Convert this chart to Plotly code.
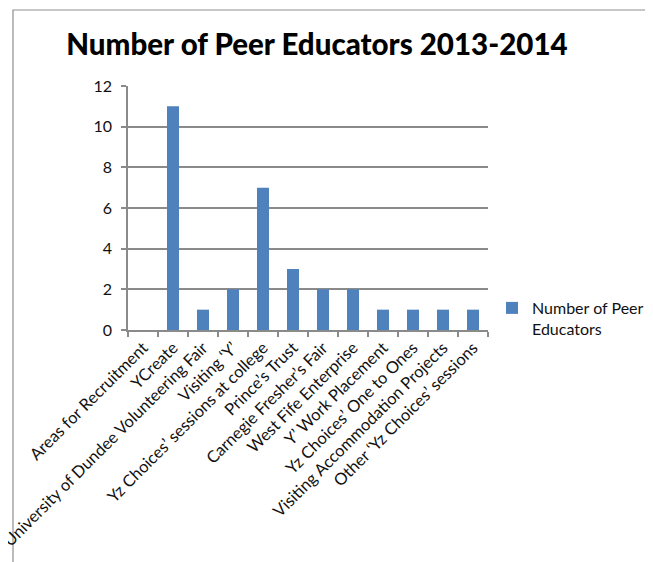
import plotly.graph_objects as go

categories = [
    "Areas for Recruitment",
    "YCreate",
    "University of Dundee Volunteering Fair",
    "Visiting \u2018Y\u2019",
    "Yz Choices\u2019 sessions at college",
    "Prince\u2019s Trust",
    "Carnegie Fresher\u2019s Fair",
    "West Fife Enterprise",
    "Y\u2019 Work Placement",
    "Yz Choices\u2019 One to Ones",
    "Visiting Accommodation Projects",
    "Other \u2018Yz Choices\u2019 sessions",
]
values = [0, 11, 1, 2, 7, 3, 2, 2, 1, 1, 1, 1]
y_ticks = [0, 2, 4, 6, 8, 10, 12]
series_name = "Number of Peer<br>Educators"
title_text = "Number of Peer Educators 2013-2014"

OFF = 8  # page body margin
W, H = 653, 562
# plot area in screen pixels: x 128..488, y 86..330
L = 128 - OFF
T = 86 - OFF
R = W - (488 - OFF)
B = H - (330 - OFF)
pw, ph = W - L - R, H - T - B

FONT = "Lato"
GRID = "#8a8a8a"

def px_x(sx):
    return (sx - OFF - L) / pw

def px_y(sy):
    return (H - B - (sy - OFF)) / ph

fig = go.Figure()
fig.add_trace(go.Bar(
    x=categories, y=values, name=series_name,
    marker=dict(color="#4F81BD", line=dict(width=0)),
    showlegend=True,
))

fig.update_layout(
    width=W, height=H,
    margin=dict(l=L, r=R, t=T, b=B, autoexpand=False),
    paper_bgcolor="white", plot_bgcolor="white",
    bargap=0.6,
    title=dict(text=title_text, x=(317 - OFF) / W, xanchor="center",
               xref="container", yref="container", y=1 - 26 / H, yanchor="top",
               font=dict(family=FONT, size=29.5, color="#000000", weight=900)),
    font=dict(family=FONT, color="#111111"),
    showlegend=True,
    legend=dict(x=px_x(492), y=px_y(291), xanchor="left", yanchor="top",
                font=dict(family=FONT, size=16, color="#111111"),
                valign="top", bgcolor="rgba(0,0,0,0)", itemwidth=30,
                tracegroupgap=0),
    xaxis=dict(
        type="category", tickangle=-45, tickfont=dict(family=FONT, size=16.5, color="#111111"),
        showline=True, linecolor=GRID, linewidth=1.5,
        ticks="outside", tickson="boundaries", ticklen=5, tickcolor=GRID, tickwidth=1.5,
        showgrid=False, automargin=False, range=[-0.5, 11.5],
    ),
    yaxis=dict(
        range=[0, 12], tickvals=y_ticks, tickfont=dict(family=FONT, size=16, color="#111111"),
        showline=True, linecolor=GRID, linewidth=1.5,
        ticks="outside", ticklen=5, tickcolor=GRID, tickwidth=1.5, ticklabelstandoff=6,
        showgrid=True, gridcolor=GRID, gridwidth=1.5, zeroline=False,
        automargin=False,
    ),
    shapes=[dict(type="rect", xref="paper", yref="paper",
                 x0=px_x(13), x1=px_x(720), y0=px_y(640), y1=px_y(10),
                 line=dict(color="#8f8f8f", width=1.2), fillcolor="rgba(0,0,0,0)",
                 layer="below")],
)

fig.write_html("out.html")
